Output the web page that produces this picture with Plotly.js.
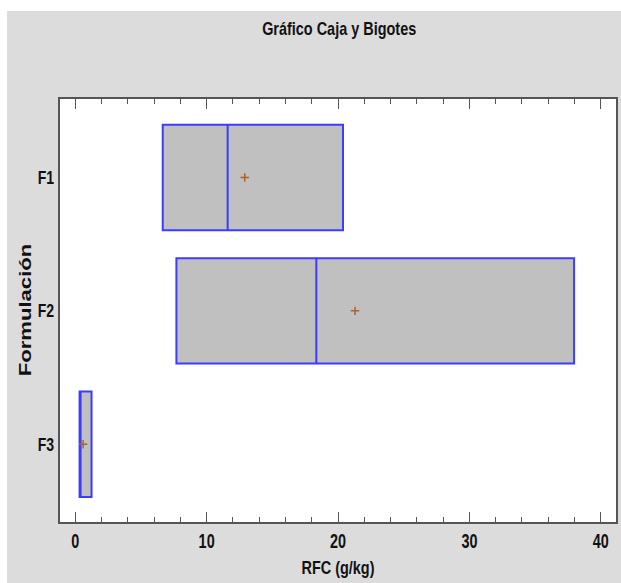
<!DOCTYPE html>
<html>
<head>
<meta charset="utf-8">
<script src="https://cdn.plot.ly/plotly-3.0.1.min.js"></script>
<style>
html,body{margin:0;padding:0;background:#ffffff;}
#chart{position:absolute;left:7px;top:11px;width:614px;height:572px;}
</style>
</head>
<body>
<div id="chart"></div>
<script>
// Data
const categories = ['F1', 'F2', 'F3'];
const q1Values = [6.66, 7.7, 0.33];
const medianValues = [11.6, 18.35, 0.33];
const q3Values = [20.38, 37.97, 1.24];
const meanValues = [12.9, 21.3, 0.6];
const xTickValues = [0, 10, 20, 30, 40];
const xTickLabels = ['0', '10', '20', '30', '40'];

const sans = 'Liberation Sans, Arial, sans-serif';

const boxTrace = {
  type: 'box',
  orientation: 'h',
  y: categories,
  q1: q1Values,
  median: medianValues,
  q3: q3Values,
  lowerfence: q1Values,
  upperfence: q3Values,
  width: 0.79,
  whiskerwidth: 0,
  fillcolor: '#c0c0c0',
  line: {color: '#3c3cff', width: 2},
  boxpoints: false,
  hoverinfo: 'x',
  showlegend: false
};

const meanTrace = {
  type: 'scatter',
  mode: 'markers',
  x: meanValues,
  y: categories,
  marker: {symbol: 'cross-thin', size: 6, line: {color: '#b0602a', width: 1.5}, color: '#b0602a'},
  showlegend: false,
  hoverinfo: 'x'
};

const layout = {
  width: 614,
  height: 572,
  paper_bgcolor: '#dcdcdc',
  plot_bgcolor: '#ffffff',
  margin: {l: 53, r: 5, t: 88, b: 61},
  title: {
    text: 'Gráfico Caja y Bigotes',
    font: {family: sans, size: 19, color: '#111111', weight: 'bold'},
    x: 0.541, xanchor: 'center', y: 0.969, yanchor: 'middle'
  },
  xaxis: {
    range: [-1.16, 41.16],
    tickvals: xTickValues,
    ticktext: xTickLabels,
    ticks: 'inside',
    ticklen: 10,
    tickwidth: 1,
    tickcolor: '#555555',
    minor: {dtick: 2, ticks: 'inside', ticklen: 5, tickwidth: 1, tickcolor: '#555555', showgrid: false},
    showgrid: false,
    zeroline: false,
    showline: true,
    linecolor: '#555555',
    linewidth: 2,
    mirror: 'ticks',
    tickfont: {family: sans, size: 20, color: '#111111', weight: 'bold'},
    title: {text: 'RFC (g/kg)', font: {family: sans, size: 19, color: '#111111', weight: 'bold'}, standoff: 10}
  },
  yaxis: {
    type: 'category',
    categoryorder: 'array',
    categoryarray: categories,
    range: [2.583, -0.588],
    ticks: '',
    showgrid: false,
    zeroline: false,
    showline: true,
    linecolor: '#555555',
    linewidth: 2,
    mirror: true,
    tickfont: {family: sans, size: 19, color: '#111111', weight: 'bold'}
  },
  annotations: [{
    text: 'Formulación',
    xref: 'paper', yref: 'paper',
    x: -0.063, y: 0.501,
    xanchor: 'center', yanchor: 'middle',
    textangle: -90,
    showarrow: false,
    font: {family: sans, size: 17, color: '#111111', weight: 'bold'}
  }]
};

// The reference's lettering is squeezed horizontally (horizontal texts condensed,
// the vertical axis title elongated along its length)
function condense(gd) {
  const rules = [['.gtitle', 0.76], ['.xtick text', 0.72], ['.ytick text', 0.74], ['.xtitle', 0.76], ['.annotation-text', 1.3]];
  rules.forEach(function (r) {
    gd.querySelectorAll(r[0]).forEach(function (t) {
      const len = t.getComputedTextLength();
      if (len > 0) {
        t.setAttribute('textLength', (len * r[1]).toFixed(2));
        t.setAttribute('lengthAdjust', 'spacingAndGlyphs');
      }
    });
  });
}

Plotly.newPlot('chart', [boxTrace, meanTrace], layout, {displayModeBar: false, staticPlot: true})
  .then(function (gd) { condense(gd); });
</script>
</body>
</html>
